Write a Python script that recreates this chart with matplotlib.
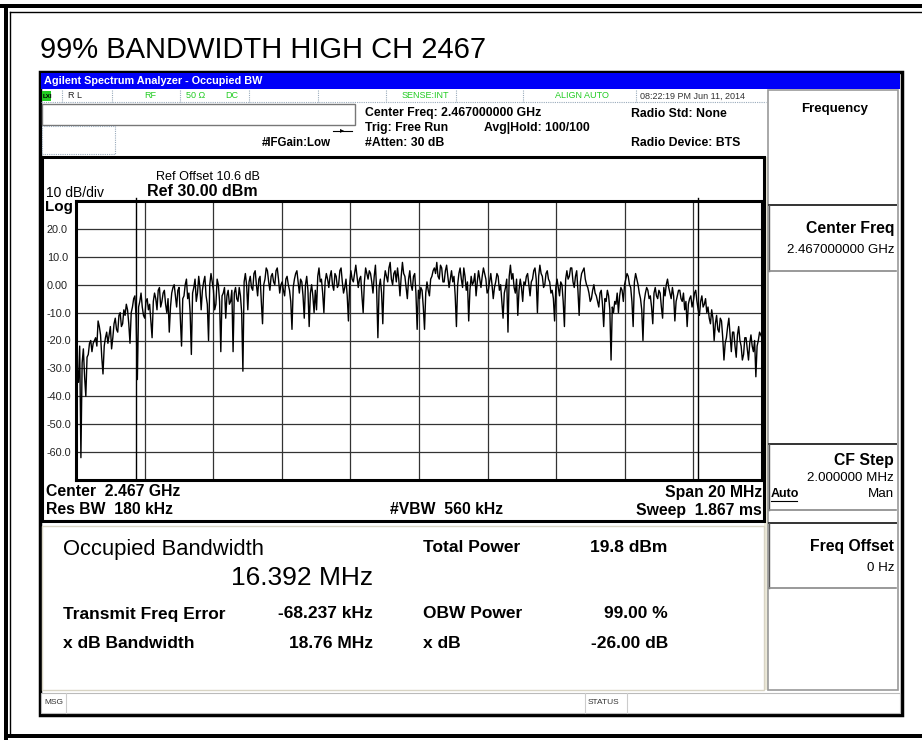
import numpy as np
import matplotlib
matplotlib.use("Agg")
import matplotlib.pyplot as plt
from matplotlib.patches import Rectangle
from matplotlib.lines import Line2D

plt.rcParams['font.family'] = ['Liberation Sans', 'DejaVu Sans']

# ---------------- data ----------------
title = "99% BANDWIDTH HIGH CH 2467"
center_ghz = 2.467
span_mhz = 20.0
ref_level = 30.0
db_per_div = 10.0
y_tick_values = [20, 10, 0, -10, -20, -30, -40, -50, -60]
y_tick_labels = ["20.0", "10.0", "0.00", "-10.0", "-20.0", "-30.0", "-40.0", "-50.0", "-60.0"]
obw_marker_offsets_mhz = [-8.264, 8.128]

r0 = [-24, -30, -35, -22, -62, -28, -23, -33, -40, -26, -25, -21, -20, -24, -21, -20, -19, -22, -13, -15,
      -18, -26, -32, -22, -19, -17, -21, -18, -15, -23, -19, -14, -12, -16, -17, -11, -10, -15, -14, -9]
r1 = [-11, -7, -9, -14, -21, -10, -8, -5, -4, -12, -34, -8, -6, -3, -8, -11, -12, -6, -5, -9,
      -7, -13, -19, -6, -3, -5, -9, -2, -1, -8, -6, -3, -2, -7, -10, -5, -17, -8, -3, -1]
r2 = [0, -4, -8, -2, -1, -12, -22, -5, -4, 0, 2, -5, -3, -10, -25, -3, -1, 2, -6, -3,
      3, -1, -9, -2, 1, 3, -4, -7, -20, 0, 4, 1, -2, -9, -7, 2, 0, -6, -24, -4]
r3 = [-3, -1, -12, -4, -2, -7, -6, -2, -24, -3, -1, -5, -6, -1, -4, -10, -31, 1, 4, 0,
      -9, 1, 3, -1, -2, 4, 5, 0, -4, 2, 3, -6, -14, 0, 2, 6, 5, 1, -2, 3]
r4 = [4, 1, 0, 5, 6, 2, -3, 0, 1, -2, -4, 2, 3, 0, -2, -6, -16, -1, 2, 4,
      5, 1, -3, 2, 1, -4, -12, 0, 3, -2, -15, -3, 0, -4, -10, -2, -9, 3, 6, 1]
r5 = [2, -3, -10, 1, 4, 2, -1, 3, 5, 0, -2, 4, 3, -1, 0, 5, 6, 1, -3, -1,
      2, -4, -13, 0, 5, 2, 1, 4, 7, 3, -1, 2, 3, -4, -10, 1, 6, 4, 2, 5]
r6 = [4, 1, -3, 3, 7, -2, -19, -1, 2, -3, -14, 1, 5, 3, 1, 6, 8, 2, 0, 4,
      5, 1, 6, 2, -4, 3, 8, 4, 3, -1, -5, 2, 5, 0, -2, 3, 4, -3, -16, -2]
r7 = [-5, -1, -2, -8, -16, -3, 1, -2, -4, 2, 3, 5, 6, 4, 8, 3, 2, 7, 6, 1,
      1, 5, 7, 3, -1, 2, 5, 1, 3, -4, -15, 0, 4, 6, 2, -1, 6, 3, -2, 1]
r8 = [-13, -2, 3, 0, 1, 4, -4, 1, 5, 2, -1, 3, 6, 4, 2, -3, -2, 1, 4, 0,
      -5, -1, 1, 4, 3, -2, 0, -6, -12, -3, -1, 2, -17, 3, 7, 2, 4, -1, -3, 2]
r9 = [-11, -2, 2, -1, -6, 1, 0, 3, 4, 0, -4, 1, 2, 5, 6, 2, -10, 3, 7, 4,
      3, -1, 0, 4, 5, 2, 1, -3, -2, -5, -13, -1, 2, -1, -4, 1, 0, -6, -15, 2]
r10 = [5, 2, 3, 6, 6, 1, -1, 3, 5, -2, -11, 1, 4, 5, 6, 2, 0, -1, -3, -6,
       -5, -2, 0, -3, -4, -6, -8, -3, -2, -7, -15, -5, -6, -2, -4, -9, -27, -8, -10, -6]
r11 = [-7, -3, -10, -4, -1, -2, -6, 0, 2, 4, 3, 0, -1, -6, -15, 1, 4, 2, 0, -3,
       -5, -9, -20, -6, -3, -1, -2, -5, -4, -8, -14, -3, -1, -4, -5, -2, -3, -8, -12, -1]
r12 = [-4, 0, 2, -1, -3, -5, -1, -4, -13, -6, -4, -2, -2, -5, -6, -3, -9, -6, -15, -7,
       -5, -4, -8, -6, -3, -2, -6, -9, -11, -6, -4, -8, -7, -5, -10, -8, -12, -14, -9, -12]
r13 = [-20, -14, -11, -16, -17, -12, -13, -19, -27, -21, -19, -15, -12, -18, -24, -17, -17, -22, -26, -18,
       -15, -20, -22, -27, -25, -19, -19, -23, -27, -21, -18, -22, -24, -20, -33, -22, -20, -17, -18, -19]
trace_dbm = r0 + r1 + r2 + r3 + r4 + r5 + r6 + r7 + r8 + r9 + r10 + r11 + r12 + r13

results_left = [("Transmit Freq Error", "-68.237 kHz"), ("x dB Bandwidth", "18.76 MHz")]
results_right = [("OBW Power", "99.00 %"), ("x dB", "-26.00 dB")]

# ---------------- figure ----------------
W, H = 922, 740
fig = plt.figure(figsize=(W / 100, H / 100), dpi=100)
fig.patch.set_facecolor('white')


def fx(x):
    return x / W


def fy(y):
    return 1 - y / H


def R(x0, y0, x1, y1, **kw):
    kw.setdefault('lw', 0)
    kw.setdefault('zorder', -5)
    fig.add_artist(Rectangle((fx(x0), fy(y1)), (x1 - x0) / W, (y1 - y0) / H,
                             transform=fig.transFigure, **kw))


def L(xs, ys, **kw):
    kw.setdefault('zorder', -1)
    fig.add_artist(Line2D([fx(v) for v in xs], [fy(v) for v in ys],
                          transform=fig.transFigure, **kw))


def T(x, y, s, **kw):
    kw.setdefault('va', 'center')
    kw.setdefault('ha', 'left')
    fig.text(fx(x), fy(y), s, **kw)


# outer page frame
R(0, 4, 922, 8, facecolor='black')
R(4, 4, 8, 740, facecolor='black')
L([10, 10], [12, 736], color='black', lw=1)
L([10, 922], [12, 12], color='black', lw=1)
R(4, 734, 922, 738, facecolor='black')

T(40, 50, title, fontsize=21, color='black')

# analyser window
R(40, 72, 902, 715, facecolor='white', edgecolor='black', lw=2.5)
R(41, 73, 900, 89, facecolor='#0000F8', zorder=-4)
T(44, 81, "Agilent Spectrum Analyzer - Occupied BW", color='white', fontsize=7.8,
  fontweight='bold')

# status row
L([41, 766], [102, 102], color='#9ab', lw=0.8, ls=(0, (1, 1)))
for xs in [62, 112, 180, 249, 318, 386, 456, 523, 636]:
    L([xs, xs], [90, 102], color='#9ab', lw=0.8, ls=(0, (1, 1)))
R(42, 91, 51, 101, facecolor='#22cc22', zorder=-3)
T(43, 96, "LXI", fontsize=4.5, color='black', fontweight='bold')
T(68, 96, "R L", fontsize=6.5, color='#222222')
T(144, 96, "RF", fontsize=6.5, color='#22cc22')
T(186, 96, "50 \u03a9", fontsize=6.5, color='#22cc22')
T(225, 96, "DC", fontsize=6.5, color='#22cc22')
T(402, 96, "SENSE:INT", fontsize=6.5, color='#22cc22')
T(555, 96, "ALIGN AUTO", fontsize=6.5, color='#22cc22')
T(640, 96, "08:22:19 PM Jun 11, 2014", fontsize=6.5, color='#333333')

# header area
R(42, 104, 355, 125, facecolor='white', edgecolor='#777777', lw=1, zorder=-3)
R(42, 126, 115, 154, facecolor='white', edgecolor='#9ab', lw=0.8, ls=(0, (1, 1)), zorder=-3)
L([333, 352], [131, 131], color='black', lw=0.8)
T(340, 131, "\u25b8", fontsize=6, color='black')
T(262, 143, "#IFGain:Low", fontsize=8.3, fontweight='bold')
T(365, 113, "Center Freq: 2.467000000 GHz", fontsize=8.8, fontweight='bold')
T(365, 128, "Trig: Free Run", fontsize=8.8, fontweight='bold')
T(484, 128, "Avg|Hold: 100/100", fontsize=8.8, fontweight='bold')
T(365, 143, "#Atten: 30 dB", fontsize=8.8, fontweight='bold')
T(631, 114, "Radio Std: None", fontsize=8.8, fontweight='bold')
T(631, 143, "Radio Device: BTS", fontsize=8.8, fontweight='bold')

# graph box
R(42, 157, 764, 521, facecolor='white', edgecolor='black', lw=2.2, zorder=-3)
T(156, 177, "Ref Offset 10.6 dB", fontsize=9.1)
T(147, 192, "Ref 30.00 dBm", fontsize=11.5, fontweight='bold')
T(46, 193, "10 dB/div", fontsize=10)
T(45, 207, "Log", fontsize=11, fontweight='bold')
T(46, 492, "Center  2.467 GHz", fontsize=11.3, fontweight='bold')
T(46, 510, "Res BW  180 kHz", fontsize=11.3, fontweight='bold')
T(390, 510, "#VBW  560 kHz", fontsize=11.3, fontweight='bold')
T(762, 492, "Span 20 MHz", fontsize=11.3, fontweight='bold', ha='right')
T(762, 510, "Sweep  1.867 ms", fontsize=11.3, fontweight='bold', ha='right')

# spectrum axes
ax = fig.add_axes([fx(76), fy(480), (762 - 76) / W, (480 - 201) / H])
ax.set_zorder(5)
freq = np.linspace(-span_mhz / 2, span_mhz / 2, len(trace_dbm))
ax.set_xlim(-span_mhz / 2, span_mhz / 2)
ax.set_ylim(ref_level - 10 * db_per_div, ref_level)
ax.set_xticks(np.linspace(-span_mhz / 2, span_mhz / 2, 11))
ax.set_yticks(y_tick_values)
ax.set_yticklabels(y_tick_labels, ha='left', fontsize=7.8, color='#222222')
ax.tick_params(axis='y', length=0, pad=21)
ax.tick_params(axis='x', length=0, labelbottom=False)
ax.grid(True, color='#333333', lw=0.9)
ax.set_axisbelow(True)
for s in ax.spines.values():
    s.set_linewidth(2.2)
    s.set_color('black')
for m in obw_marker_offsets_mhz:
    ax.plot([m, m], [ref_level - 10 * db_per_div, ref_level + 1.2], color='black', lw=1,
            clip_on=False)
ax.plot(freq, trace_dbm, color='black', lw=1.0)

# measurement pane
R(764, 157, 768, 690, facecolor='#ECE9D8')
R(42, 526, 764, 690, facecolor='white', edgecolor='#d8d4c4', lw=1, zorder=-3)
T(63, 550, "Occupied Bandwidth", fontsize=15.8, color='black')
T(373, 578, "16.392 MHz", fontsize=19, ha='right')
T(423, 548, "Total Power", fontsize=12.5, fontweight='bold')
T(590, 548, "19.8 dBm", fontsize=12.5, fontweight='bold')
for i, (lab, val) in enumerate(results_left):
    yy = 614 + 29 * i
    T(63, yy, lab, fontsize=12.5, fontweight='bold')
    T(373, yy, val, fontsize=12.5, fontweight='bold', ha='right')
for i, (lab, val) in enumerate(results_right):
    yy = 614 + 29 * i
    T(423, yy, lab, fontsize=12.5, fontweight='bold')
    T(668, yy, val, fontsize=12.5, fontweight='bold', ha='right')

# message bar
R(41, 693, 900, 713, facecolor='white', edgecolor='#bbbbbb', lw=0.8, zorder=-3)
for xs in [66, 585, 627]:
    L([xs, xs], [693, 713], color='#cccccc', lw=0.8)
T(44, 703, "MSG", fontsize=6, color='#333333')
T(588, 703, "STATUS", fontsize=6, color='#333333')

# right softkey panel
R(768, 90, 898, 690, facecolor='white', edgecolor='#999999', lw=1.2, zorder=-3)
T(835, 109, "Frequency", fontsize=9.5, fontweight='bold', ha='center')
for (y0, y1) in [(205, 271), (444, 510), (523, 588)]:
    L([769, 896], [y0, y0], color='#333333', lw=1.4)
    L([769, 769], [y0, y1], color='#555555', lw=1)
    L([769, 896], [y1, y1], color='#888888', lw=1.2)
T(894, 228, "Center Freq", fontsize=11.3, fontweight='bold', ha='right')
T(894, 250, "2.467000000 GHz", fontsize=9.5, ha='right')
T(894, 461, "CF Step", fontsize=11.3, fontweight='bold', ha='right')
T(894, 478, "2.000000 MHz", fontsize=9.6, ha='right')
T(771, 494, "Auto", fontsize=9, fontweight='bold')
L([771, 797], [501, 501], color='black', lw=0.8)
T(894, 494, "Man", fontsize=9.6, ha='right')
T(894, 546, "Freq Offset", fontsize=11.3, fontweight='bold', ha='right')
T(894, 568, "0 Hz", fontsize=9.6, ha='right')

fig.savefig("out.png", dpi=100, facecolor='white')
